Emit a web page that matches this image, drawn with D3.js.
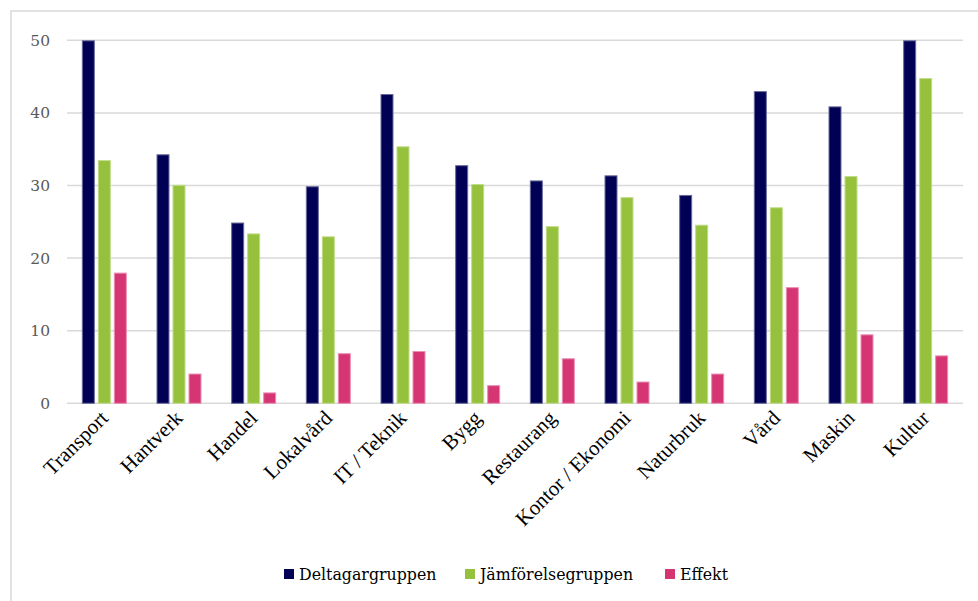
<!DOCTYPE html>
<html><head><meta charset="utf-8">
<script src="https://cdn.jsdelivr.net/npm/d3@7"></script>
<style>body{margin:0;background:#fff}svg{display:block}</style>
</head><body><svg id="c" width="978" height="601"></svg>
<script>
const categories = ["Transport","Hantverk","Handel","Lokalvård","IT / Teknik","Bygg","Restaurang","Kontor / Ekonomi","Naturbruk","Vård","Maskin","Kultur"];
const seriesNames = ["Deltagargruppen","Jämförelsegruppen","Effekt"];
const deltagare = [50.0,34.3,24.9,29.9,42.6,32.8,30.7,31.4,28.7,43.0,40.9,50.0];
const jamforelse = [33.5,30.1,23.4,23.0,35.4,30.2,24.4,28.4,24.6,27.0,31.3,44.8];
const effekt = [18.0,4.1,1.5,6.9,7.2,2.5,6.2,3.0,4.1,16.0,9.5,6.6];
const yTicks = [0,10,20,30,40,50];
const colors = ["#000055","#96c13d","#d63574"];
const strokes = ["#6a6a9a","#c0dc8a","#ea8fb2"];

(function(){
const svg = d3.select("#c");
svg.append("rect").attr("x",11).attr("y",11).attr("width",990).attr("height",620)
  .attr("fill","none").attr("stroke","#d9d9d9").attr("stroke-width",1.5);

const pLeft=67, pRight=963, pTop=40.3, pBottom=403.3;
const x = d3.scaleBand().domain(categories).range([pLeft,pRight]).paddingInner(0).paddingOuter(0);
const y = d3.scaleLinear().domain([0,50]).range([pBottom,pTop]);
const bw = 13, gap = 3;
const groupW = 3*bw+2*gap;
const x1 = d3.scaleBand().domain(seriesNames).range([0, groupW]).paddingInner(gap/(bw+gap)).paddingOuter(0);

svg.append("g").selectAll("line").data(yTicks).join("line")
  .attr("x1",pLeft).attr("x2",pRight).attr("y1",d=>y(d)).attr("y2",d=>y(d))
  .attr("stroke","#d9d9d9").attr("stroke-width",1.5);

const yAxis = d3.axisLeft(y).tickValues(yTicks).tickSize(0).tickPadding(0).tickFormat(d3.format("d"));
const ya = svg.append("g").attr("transform","translate(50,0)").call(yAxis);
ya.select(".domain").remove();
ya.selectAll("text").attr("font-family","'DejaVu Serif', Georgia, serif").attr("font-size",15.5).attr("fill","#595959");

const data = [deltagare, jamforelse, effekt];
seriesNames.forEach((s,si)=>{
  svg.append("g").selectAll("rect").data(categories).join("rect")
    .attr("x",(c)=>x(c)+(x.bandwidth()-groupW)/2 + x1(s)+0.5)
    .attr("width",x1.bandwidth()-1)
    .attr("y",(c,i)=>y(data[si][i])+0.5)
    .attr("height",(c,i)=>Math.max(0,y(0)-y(data[si][i])-0.5))
    .attr("fill",colors[si]).attr("stroke",strokes[si]).attr("stroke-width",1);
});

const xAxis = d3.axisBottom(x).tickSize(0).tickPadding(0);
const xa = svg.append("g").attr("transform",`translate(0,${pBottom})`).call(xAxis);
xa.select(".domain").remove();
xa.selectAll("text")
  .attr("font-family","'Liberation Serif', 'Times New Roman', serif").attr("font-size",21).attr("fill","#000")
  .attr("text-anchor","end").attr("dy",null).attr("y",0)
  .attr("transform","translate(5,16) rotate(-45)");

const legX = [284, 465, 665];
const lg = svg.append("g");
seriesNames.forEach((s,i)=>{
  lg.append("rect").attr("x",legX[i]).attr("y",569).attr("width",10).attr("height",10).attr("fill",colors[i]);
  lg.append("text").attr("x",legX[i]+15).attr("y",580).text(s)
    .attr("font-family","'DejaVu Serif', Georgia, serif").attr("font-size",15.8).attr("fill","#000");
});
})();
</script></body></html>
